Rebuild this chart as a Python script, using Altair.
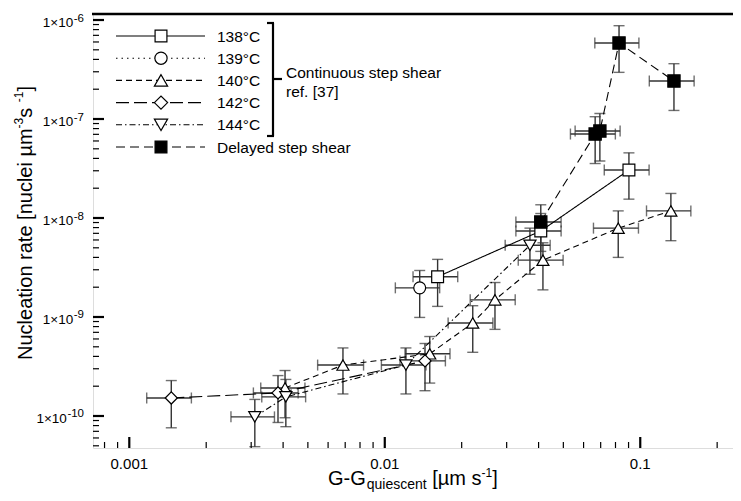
import altair as alt
import pandas as pd

FONT = "Liberation Sans"

# ---------------- data ----------------
series_names = ["138°C", "139°C", "140°C", "142°C", "144°C", "Delayed step shear"]

x_138 = [0.0161, 0.0408, 0.0903]
y_138 = [2.55e-9, 7.4e-9, 3.05e-8]
xerr_138 = [0.0032, 0.0082, 0.018]
yerr_138 = [1.27e-9, 3.7e-9, 1.5e-8]

x_139 = [0.0137]
y_139 = [1.97e-9]
xerr_139 = [0.0027]
yerr_139 = [0.98e-9]

x_140 = [0.00407, 0.00686, 0.0150, 0.0221, 0.0270, 0.0416, 0.0820, 0.1318]
y_140 = [1.92e-10, 3.27e-10, 4.25e-10, 8.7e-10, 1.49e-9, 3.75e-9, 7.9e-9, 1.18e-8]
xerr_140 = [0.0008, 0.0014, 0.0030, 0.0044, 0.0054, 0.0083, 0.0164, 0.026]
yerr_140 = [0.96e-10, 1.6e-10, 2.1e-10, 4.3e-10, 7.4e-10, 1.87e-9, 3.9e-9, 5.9e-9]

x_142 = [0.00146, 0.00382, 0.01437]
y_142 = [1.52e-10, 1.71e-10, 3.6e-10]
xerr_142 = [0.00029, 0.00076, 0.0029]
yerr_142 = [0.76e-10, 0.85e-10, 1.8e-10]

x_144 = [0.0031, 0.0041, 0.0121, 0.0370]
y_144 = [9.8e-11, 1.56e-10, 3.27e-10, 5.3e-9]
xerr_144 = [0.0006, 0.0008, 0.0024, 0.0074]
yerr_144 = [0.49e-10, 0.78e-10, 1.6e-10, 2.6e-9]

x_del = [0.0408, 0.0666, 0.0695, 0.0826, 0.1355]
y_del = [9.1e-9, 7.05e-8, 7.56e-8, 5.86e-7, 2.42e-7]
xerr_del = [0.0082, 0.0133, 0.0139, 0.0162, 0.027]
yerr_del = [4.5e-9, 3.5e-8, 3.8e-8, 2.9e-7, 1.2e-7]

x_major_ticks = [0.001, 0.01, 0.1]
x_tick_labels = ["0.001", "0.01", "0.1"]
y_major_ticks = [1e-10, 1e-9, 1e-8, 1e-7, 1e-6]
y_tick_base = "1×10"
y_tick_exponents = ["-10", "-9", "-8", "-7", "-6"]

# ---------------- styles ----------------
shapes = ["square", "circle", "triangle-up", "diamond", "triangle-down", "square"]
fills = ["white", "white", "white", "white", "white", "black"]
sizes = [140, 150, 175, 175, 175, 140]
dashes = [[1, 0], [1.5, 4], [6, 4], [13, 5], [6, 3, 1.5, 3], [9, 5]]

# Helvetica/Arial-compatible advance widths (per em) for layout of split texts
_W = {" ": .278, "-": .333, "[": .278, "]": .278, "µ": .576, "m": .833, "s": .5, "N": .722,
      "u": .556, "c": .5, "l": .222, "e": .556, "a": .556, "t": .278, "i": .222, "o": .556,
      "n": .556, "r": .333, "G": .778, "q": .556, "×": .584}

def tw(s, size):
    return sum(_W.get(ch, .556) for ch in s) * size

all_x = [x_138, x_139, x_140, x_142, x_144, x_del]
all_y = [y_138, y_139, y_140, y_142, y_144, y_del]
all_xe = [xerr_138, xerr_139, xerr_140, xerr_142, xerr_144, xerr_del]
all_ye = [yerr_138, yerr_139, yerr_140, yerr_142, yerr_144, yerr_del]

rows = []
for name, xs_, ys_, xe_, ye_ in zip(series_names, all_x, all_y, all_xe, all_ye):
    for xv, yv, xe, ye in zip(xs_, ys_, xe_, ye_):
        rows.append({"series": name, "x": xv, "y": yv,
                     "xlo": xv - xe, "xhi": xv + xe,
                     "ylo": yv - ye, "yhi": yv + ye})
df = pd.DataFrame(rows)

W, H = 640, 434
X_DOM = [7.21e-4, 0.2307]
Y_DOM = [4.75e-11, 1.15e-6]
xs = alt.Scale(type="log", domain=X_DOM, nice=False)
ys = alt.Scale(type="log", domain=Y_DOM, nice=False)

ERR = "#333333"

base = alt.Chart(df)

x_axis = alt.Axis(labels=False, ticks=False, tickSize=0, grid=False,
                  domainColor="black", domainWidth=2.5, title=None)
y_axis = alt.Axis(labels=False, ticks=False, tickSize=0, grid=False,
                  domainColor="black", domainWidth=2.5, title=None)

xerr_rule = base.mark_rule(color=ERR, strokeWidth=1.4).encode(
    x=alt.X("xlo:Q", scale=xs, axis=x_axis), x2="xhi:Q",
    y=alt.Y("y:Q", scale=ys, axis=y_axis))
xerr_caps = base.transform_fold(["xlo", "xhi"], as_=["k", "v"]).mark_tick(
    orient="vertical", size=11, thickness=1.4, color=ERR).encode(
    x=alt.X("v:Q", scale=xs, axis=None), y=alt.Y("y:Q", scale=ys, axis=None))
yerr_rule = base.mark_rule(color=ERR, strokeWidth=1.4).encode(
    x=alt.X("x:Q", scale=xs, axis=None),
    y=alt.Y("ylo:Q", scale=ys, axis=None), y2="yhi:Q")
yerr_caps = base.transform_fold(["ylo", "yhi"], as_=["k", "v"]).mark_tick(
    orient="horizontal", size=11, thickness=1.4, color=ERR).encode(
    x=alt.X("x:Q", scale=xs, axis=None), y=alt.Y("v:Q", scale=ys, axis=None))

lines = base.mark_line(color="black", strokeWidth=1.1).encode(
    x=alt.X("x:Q", scale=xs, axis=None), y=alt.Y("y:Q", scale=ys, axis=None),
    strokeDash=alt.StrokeDash("series:N", scale=alt.Scale(domain=series_names, range=dashes), legend=None),
    detail="series:N", order="x:Q")

points = base.mark_point(filled=True, stroke="black", strokeWidth=1.2, opacity=1).encode(
    x=alt.X("x:Q", scale=xs, axis=None), y=alt.Y("y:Q", scale=ys, axis=None),
    shape=alt.Shape("series:N", scale=alt.Scale(domain=series_names, range=shapes), legend=None),
    fill=alt.Fill("series:N", scale=alt.Scale(domain=series_names, range=fills), legend=None),
    size=alt.Size("series:N", scale=alt.Scale(domain=series_names, range=sizes), legend=None))

# inward ticks
x_minor = [m * 10.0 ** k for k in range(-4, 0) for m in range(2, 10)]
x_minor = [v for v in x_minor if X_DOM[0] <= v <= X_DOM[1]]
y_minor = [m * 10.0 ** k for k in range(-11, -5) for m in range(2, 10)]
y_minor = [v for v in y_minor if Y_DOM[0] <= v <= Y_DOM[1]]

def xticks(vals, length, width):
    return alt.Chart(pd.DataFrame({"v": vals})).mark_rule(color="black", strokeWidth=width).encode(
        x=alt.X("v:Q", scale=xs, axis=None), y=alt.value(H), y2=alt.value(H - length))

def yticks(vals, length, width):
    return alt.Chart(pd.DataFrame({"v": vals})).mark_rule(color="black", strokeWidth=width).encode(
        y=alt.Y("v:Q", scale=ys, axis=None), x=alt.value(0), x2=alt.value(length))

# tick labels
x_labels = alt.Chart(pd.DataFrame({"v": x_major_ticks, "t": x_tick_labels})).mark_text(
    align="center", baseline="top", fontSize=15, font=FONT, color="black").encode(
    x=alt.X("v:Q", scale=xs, axis=None), y=alt.value(H + 9), text="t:N")

YL_BASE, YL_EXP, YL_RIGHT = 13.5, 11.5, -9
y_label_layers = []
for v, e in zip(y_major_ticks, y_tick_exponents):
    d = pd.DataFrame({"v": [v]})
    ew = tw(e, YL_EXP)
    y_label_layers.append(alt.Chart(d).mark_text(
        align="right", baseline="alphabetic", fontSize=YL_BASE, font=FONT, color="black", dy=7).encode(
        y=alt.Y("v:Q", scale=ys, axis=None), x=alt.value(YL_RIGHT - ew - 0.5),
        text=alt.value(y_tick_base)))
    y_label_layers.append(alt.Chart(d).mark_text(
        align="right", baseline="alphabetic", fontSize=YL_EXP, font=FONT, color="black", dy=1.5).encode(
        y=alt.Y("v:Q", scale=ys, axis=None), x=alt.value(YL_RIGHT), text=alt.value(e)))

one = pd.DataFrame({"k": [0]})
top_border = alt.Chart(one).mark_rule(color="black", strokeWidth=2.5).encode(
    x=alt.value(-1), x2=alt.value(W), y=alt.value(0))

def txt(s, x, y, size, angle=0, align="left"):
    kw = dict(align=align, baseline="alphabetic", fontSize=size, font=FONT, color="black")
    if angle:
        kw["angle"] = angle
    return alt.Chart(one).mark_text(**kw).encode(x=alt.value(x), y=alt.value(y), text=alt.value(s))

# legend
legend_layers = []
for i, name in enumerate(series_names):
    ry = 22 + 22.2 * i
    rule_kw = dict(color="black", strokeWidth=1.1)
    if dashes[i] != [1, 0]:
        rule_kw["strokeDash"] = dashes[i]
    legend_layers.append(alt.Chart(one).mark_rule(**rule_kw).encode(
        x=alt.value(23), x2=alt.value(112), y=alt.value(ry)))
    legend_layers.append(alt.Chart(one).mark_point(
        shape=shapes[i], size=sizes[i], filled=True, fill=fills[i], stroke="black",
        strokeWidth=1.2, opacity=1).encode(x=alt.value(68), y=alt.value(ry)))
    legend_layers.append(txt(name, 124, ry + 5.5, 15.5))

bk = dict(color="black", strokeWidth=2.2)
bracket = [
    alt.Chart(one).mark_rule(**bk).encode(x=alt.value(180), y=alt.value(9), y2=alt.value(122)),
    alt.Chart(one).mark_rule(**bk).encode(x=alt.value(174), x2=alt.value(181), y=alt.value(9)),
    alt.Chart(one).mark_rule(**bk).encode(x=alt.value(174), x2=alt.value(181), y=alt.value(122)),
    alt.Chart(one).mark_rule(**bk).encode(x=alt.value(180), x2=alt.value(189), y=alt.value(65)),
]
group_text = [txt("Continuous step shear", 193, 64, 15.5), txt("ref. [37]", 193, 83, 15.5)]

# y title (rotated), pieces with real superscripts
T, S = 20, 12
yt_pieces = [("Nucleation rate [nuclei µm", T, -61.5), ("-3", S, -70), (" s", T, -61.5),
             ("-1", S, -70), ("]", T, -61.5)]
titles = []
ypos = 346
for s, size, bx in yt_pieces:
    titles.append(txt(s, bx, ypos, size, angle=270))
    ypos -= tw(s, size)

# x title pieces
xpos = 235
titles.append(txt("G-G", xpos, 471, T))
xpos += tw("G-G", T) + 1
titles.append(txt("quiescent", xpos, 475, 14))
xpos += tw("quiescent", 14) + tw(" ", T)
titles.append(txt("[µm s", xpos, 471, T))
xpos += tw("[µm s", T)
titles.append(txt("-1", xpos, 463, S))
xpos += tw("-1", S)
titles.append(txt("]", xpos, 471, T))

chart = alt.layer(
    xerr_rule, xerr_caps, yerr_rule, yerr_caps, lines, points,
    xticks(x_major_ticks, 11, 2.2), xticks(x_minor, 6, 1.2),
    yticks(y_major_ticks, 11, 2.2), yticks(y_minor, 6, 1.2),
    x_labels, *y_label_layers,
    top_border, *legend_layers, *bracket, *group_text, *titles,
).properties(
    width=W, height=H,
    padding={"left": 85, "top": 6, "right": 0, "bottom": 45},
    autosize=alt.AutoSizeParams(type="none"),
    background="white",
).configure_view(stroke=None).configure(font=FONT)

chart.save("out.html", embed_options={"renderer": "svg", "actions": False})
